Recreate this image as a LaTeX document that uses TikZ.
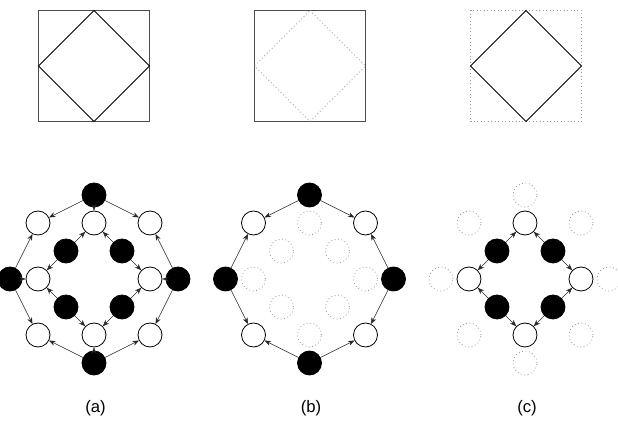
\documentclass[tikz,border=0pt]{standalone}
\usepackage{fontspec}
\setmainfont{Liberation Sans}
\usetikzlibrary{arrows.meta,positioning}

\tikzset{
  site/.style={circle, draw=black, line width=0.6pt, minimum size=18pt, inner sep=0pt},
  full/.style={site, fill=black},
  empty/.style={site, fill=white},
  ghost/.style={site, draw=gray!80, dotted},
  hop/.style={-{Stealth[length=4.8pt,width=3.8pt]}, line width=0.4pt, draw=black!85},
  frame/.style={line width=0.7pt, draw=black!70},
  faint/.style={line width=0.6pt, draw=gray!80, dotted},
  caption/.style={font=\fontsize{12.5}{15}\selectfont},
}

\begin{document}
\begin{tikzpicture}[x=0.75pt, y=-0.75pt]
  \useasboundingbox (0,0) rectangle (618,438);

  % Squares
  \begin{scope}[shift={(94,66)}]
    \draw[frame] (-55.5,-55.5) rectangle (55.5,55.5);
    \draw[line width=0.6pt] (0,-55.5) -- (55.5,0) -- (0,55.5) -- (-55.5,0) -- cycle;
  \end{scope}
  \begin{scope}[shift={(310,66)}]
    \draw[frame] (-55.5,-55.5) rectangle (55.5,55.5);
    \draw[faint] (0,-55.5) -- (55.5,0) -- (0,55.5) -- (-55.5,0) -- cycle;
  \end{scope}
  \begin{scope}[shift={(526,66)}]
    \draw[faint] (-55.5,-55.5) rectangle (55.5,55.5);
    \draw[line width=0.6pt] (0,-55.5) -- (55.5,0) -- (0,55.5) -- (-55.5,0) -- cycle;
  \end{scope}

  % (a) all sites
  \begin{scope}[shift={(94,279)}, x=21pt, y=21pt]
    \node[full] (a-bN) at (0,3) {};
    \node[full] (a-bW) at (-3,0) {};
    \node[full] (a-bE) at (3,0) {};
    \node[full] (a-bS) at (0,-3) {};
    \node[full] (a-iNW) at (-1,1) {};
    \node[full] (a-iNE) at (1,1) {};
    \node[full] (a-iSW) at (-1,-1) {};
    \node[full] (a-iSE) at (1,-1) {};
    \node[empty] (a-wN) at (0,2) {};
    \node[empty] (a-wS) at (0,-2) {};
    \node[empty] (a-wW) at (-2,0) {};
    \node[empty] (a-wE) at (2,0) {};
    \node[empty] (a-wNW) at (-2,2) {};
    \node[empty] (a-wNE) at (2,2) {};
    \node[empty] (a-wSW) at (-2,-2) {};
    \node[empty] (a-wSE) at (2,-2) {};
    \foreach \s/\t in {bN/wNW, bN/wN, bN/wNE, bW/wNW, bW/wW, bW/wSW,
                       bE/wNE, bE/wE, bE/wSE, bS/wSW, bS/wS, bS/wSE,
                       iNW/wN, iNW/wW, iNE/wN, iNE/wE,
                       iSW/wW, iSW/wS, iSE/wE, iSE/wS}
      \draw[hop] (a-\s) -- (a-\t);
  \end{scope}

  % (b) outer ring
  \begin{scope}[shift={(309.5,279)}, x=21pt, y=21pt]
    \node[full] (b-bN) at (0,3) {};
    \node[full] (b-bW) at (-3,0) {};
    \node[full] (b-bE) at (3,0) {};
    \node[full] (b-bS) at (0,-3) {};
    \node[ghost] (b-iNW) at (-1,1) {};
    \node[ghost] (b-iNE) at (1,1) {};
    \node[ghost] (b-iSW) at (-1,-1) {};
    \node[ghost] (b-iSE) at (1,-1) {};
    \node[ghost] (b-wN) at (0,2) {};
    \node[ghost] (b-wS) at (0,-2) {};
    \node[ghost] (b-wW) at (-2,0) {};
    \node[ghost] (b-wE) at (2,0) {};
    \node[empty] (b-wNW) at (-2,2) {};
    \node[empty] (b-wNE) at (2,2) {};
    \node[empty] (b-wSW) at (-2,-2) {};
    \node[empty] (b-wSE) at (2,-2) {};
    \foreach \s/\t in {bN/wNW, bN/wNE, bW/wNW, bW/wSW,
                       bE/wNE, bE/wSE, bS/wSW, bS/wSE}
      \draw[hop] (b-\s) -- (b-\t);
  \end{scope}

  % (c) inner ring
  \begin{scope}[shift={(525,279)}, x=21pt, y=21pt]
    \node[ghost] (c-bN) at (0,3) {};
    \node[ghost] (c-bW) at (-3,0) {};
    \node[ghost] (c-bE) at (3,0) {};
    \node[ghost] (c-bS) at (0,-3) {};
    \node[full] (c-iNW) at (-1,1) {};
    \node[full] (c-iNE) at (1,1) {};
    \node[full] (c-iSW) at (-1,-1) {};
    \node[full] (c-iSE) at (1,-1) {};
    \node[empty] (c-wN) at (0,2) {};
    \node[empty] (c-wS) at (0,-2) {};
    \node[empty] (c-wW) at (-2,0) {};
    \node[empty] (c-wE) at (2,0) {};
    \node[ghost] (c-wNW) at (-2,2) {};
    \node[ghost] (c-wNE) at (2,2) {};
    \node[ghost] (c-wSW) at (-2,-2) {};
    \node[ghost] (c-wSE) at (2,-2) {};
    \foreach \s/\t in {iNW/wN, iNW/wW, iNE/wN, iNE/wE,
                       iSW/wW, iSW/wS, iSE/wE, iSE/wS}
      \draw[hop] (c-\s) -- (c-\t);
  \end{scope}

  % Labels
  \node[caption] (la) at (95.5,408) {(a)};
  \node[caption] (lb) at (311,408) {(b)};
  \node[caption] (lc) at (527,408) {(c)};
\end{tikzpicture}
\end{document}
